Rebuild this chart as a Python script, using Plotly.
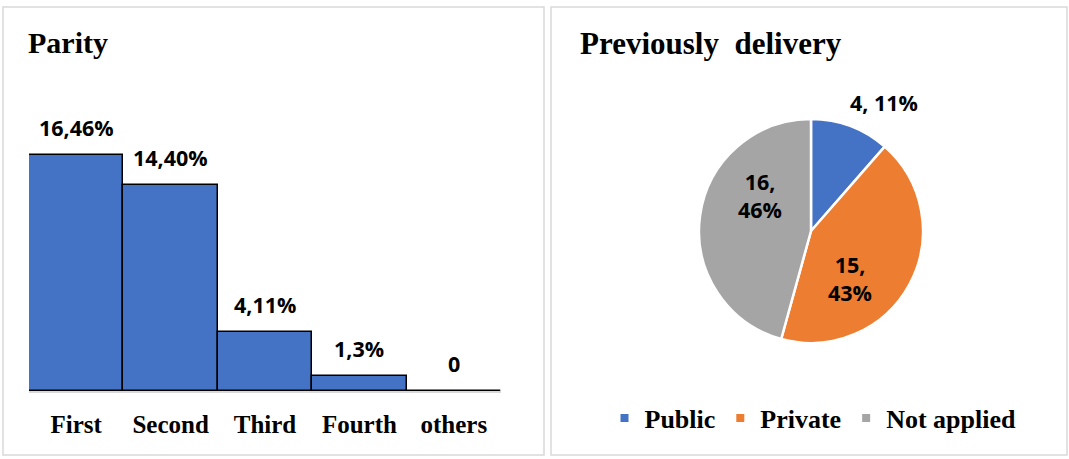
import math
import plotly.graph_objects as go

# Parity: number of women and share (%) per birth order
parity_labels = ["First", "Second", "Third", "Fourth", "others"]
parity_counts = [16, 14, 4, 1, 0]
parity_pct = [46, 40, 11, 3, 0]

# Previous delivery place
delivery_labels = ["Public", "Private", "Not applied"]
delivery_counts = [4, 15, 16]
delivery_pct = [11, 43, 46]
delivery_colors = ["#4472C4", "#ED7D31", "#A5A5A5"]

W, H = 1069, 459
SERIF = "Liberation Serif, Times New Roman, serif"
SANS = "Open Sans, Arial, sans-serif"


def px_x(x):
    return x / W


def px_y(y):
    return 1 - y / H


def bar_text(c, p):
    return "0" if c == 0 else f"{c},{p}%"


fig = go.Figure()

fig.add_trace(go.Bar(
    x=parity_labels,
    y=parity_counts,
    marker=dict(color="#4472C4", line=dict(color="#000000", width=1.5)),
    showlegend=False,
    hoverinfo="x+y",
))

# value labels above the bars
for lab, c, p in zip(parity_labels, parity_counts, parity_pct):
    fig.add_annotation(
        x=lab, y=c, xref="x", yref="y",
        text=bar_text(c, p), showarrow=False,
        yanchor="bottom", yshift=11,
        font=dict(family=SANS, size=21.5, color="#000000", weight="bold"),
    )

# pie geometry (pixels)
PIE_CX, PIE_CY, PIE_R = 811, 231, 112

fig.add_trace(go.Pie(
    labels=delivery_labels,
    values=delivery_counts,
    textinfo="none",
    marker=dict(colors=delivery_colors, line=dict(color="#FFFFFF", width=2.5)),
    sort=False,
    direction="clockwise",
    rotation=0,
    domain=dict(x=[px_x(PIE_CX - PIE_R), px_x(PIE_CX + PIE_R)],
                y=[px_y(PIE_CY + PIE_R), px_y(PIE_CY - PIE_R)]),
    showlegend=False,
))

# legend entries with small square keys
for lab, col in zip(delivery_labels, delivery_colors):
    fig.add_trace(go.Scatter(
        x=[None], y=[None], xaxis="x2", yaxis="y2",
        mode="markers", name=f"<b>{lab}</b>",
        marker=dict(symbol="square", size=8, color=col),
        hoverinfo="skip",
    ))

# slice labels: angle offset (deg, from slice middle) and radius factor per slice
label_tweak = [(9, 1.32), (22, 0.55), (27, 0.55)]
total = sum(delivery_counts)
start = 0.0
for i, (c, p) in enumerate(zip(delivery_counts, delivery_pct)):
    mid = (start + c / 2) / total * 360
    start += c
    d_ang, rf = label_tweak[i]
    a = math.radians(mid + d_ang)
    lx = PIE_CX + PIE_R * rf * math.sin(a)
    ly = PIE_CY - PIE_R * rf * math.cos(a)
    txt = f"{c}, {p}%" if i == 0 else f"{c},<br>{p}%"
    fig.add_annotation(
        x=px_x(lx), y=px_y(ly), xref="paper", yref="paper",
        text=txt, showarrow=False, xanchor="center", yanchor="middle",
        font=dict(family=SANS, size=21.5, color="#000000", weight="bold"),
    )

# panel frames
for x0, x1 in [(3, 544), (551, 1067)]:
    fig.add_shape(type="rect", xref="paper", yref="paper",
                  x0=px_x(x0), x1=px_x(x1), y0=px_y(455), y1=px_y(7),
                  line=dict(color="#D9D9D9", width=1.5), fillcolor="rgba(0,0,0,0)",
                  layer="below")

# panel titles
fig.add_annotation(x=px_x(26), y=px_y(42), xref="paper", yref="paper",
                   text="<b>Parity</b>", showarrow=False,
                   xanchor="left", yanchor="middle",
                   font=dict(family=SERIF, size=30, color="#000000"))
fig.add_annotation(x=px_x(578), y=px_y(43), xref="paper", yref="paper",
                   text="<b>Previously  delivery</b>", showarrow=False,
                   xanchor="left", yanchor="middle",
                   font=dict(family=SERIF, size=31, color="#000000"))

fig.update_layout(
    width=W, height=H,
    margin=dict(l=0, r=0, t=0, b=0),
    paper_bgcolor="#FFFFFF",
    plot_bgcolor="#FFFFFF",
    bargap=0,
    xaxis=dict(
        domain=[px_x(29), px_x(501)],
        type="category",
        categoryorder="array", categoryarray=parity_labels,
        showline=True, linecolor="#D9D9D9", linewidth=1.5,
        ticks="outside", ticklen=10, tickcolor="rgba(0,0,0,0)",
        tickfont=dict(family=SERIF, size=25, color="#000000"),
        tickprefix="<b>", ticksuffix="</b>",
        showgrid=False, zeroline=False, fixedrange=True,
    ),
    yaxis=dict(
        domain=[px_y(391), px_y(126)],
        range=[0, 18],
        visible=False, showgrid=False, zeroline=False, fixedrange=True,
    ),
    xaxis2=dict(domain=[px_x(700), px_x(920)], anchor="y2",
                visible=False, range=[0, 1], fixedrange=True),
    yaxis2=dict(domain=[px_y(340), px_y(120)], anchor="x2",
                visible=False, range=[0, 1], fixedrange=True),
    legend=dict(
        orientation="h",
        x=px_x(813), xanchor="center",
        y=px_y(418), yanchor="middle",
        font=dict(family=SERIF, size=26, color="#000000"),
        bgcolor="rgba(0,0,0,0)",
        itemclick=False, itemdoubleclick=False,
    ),
)

fig.write_html("out.html")
